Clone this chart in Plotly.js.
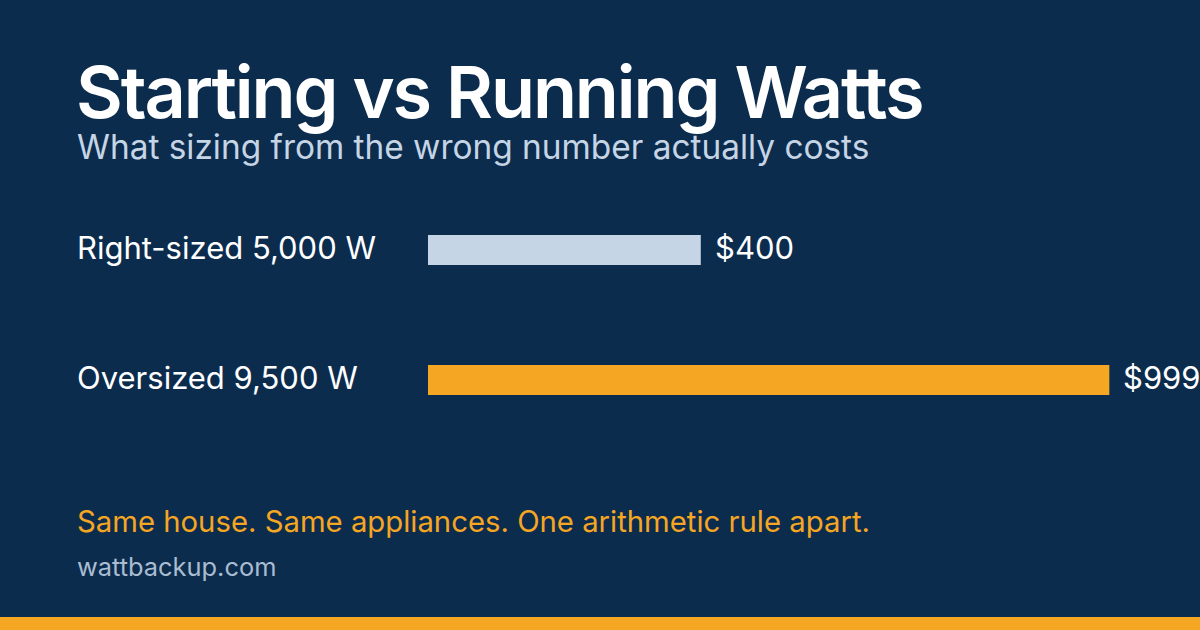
<!DOCTYPE html>
<html>
<head>
<meta charset="utf-8">
<script src="https://cdn.plot.ly/plotly-3.0.1.min.js"></script>
<style>
  html, body { margin: 0; padding: 0; background: #0c2c4e; }
  #chart { width: 1200px; height: 630px; }
</style>
</head>
<body>
<div id="chart"></div>
<script>
// ---- data --------------------------------------------------------------------
const categories = ['Right-sized 5,000 W', 'Oversized 9,500 W'];
const costs      = [400, 999];
const costLabels = ['$400', '$999'];
const barColors  = ['#c5d5e5', '#f5a623'];

const TITLE    = 'Starting vs Running Watts';
const SUBTITLE = 'What sizing from the wrong number actually costs';
const FOOTNOTE = 'Same house. Same appliances. One arithmetic rule apart.';
const SOURCE   = 'wattbackup.com';

// ---- page geometry (px) ------------------------------------------------------
const W = 1200, H = 630;
const M = { l: 428, r: 0, t: 185, b: 185 };
const plotW = W - M.l - M.r;
const plotH = H - M.t - M.b;
const xp = px => (px - M.l) / plotW;         // page px -> paper x
const yp = py => (H - M.b - py) / plotH;     // page px -> paper y

const BG     = '#0c2c4e';
const ORANGE = '#f5a623';
const FONT   = 'Inter, "Noto Sans", sans-serif';

const traces = [{
  type: 'bar', orientation: 'h',
  x: costs, y: categories,
  marker: { color: barColors, line: { width: 0 } },
  width: 0.23,
  hoverinfo: 'skip',
}];

const annotations = [];

// category labels, left aligned at the text column
categories.forEach(c => {
  annotations.push({
    xref: 'paper', yref: 'y', x: xp(75), y: c,
    xanchor: 'left', yanchor: 'middle', yshift: 3, showarrow: false,
    text: c, font: { family: FONT, size: 31, color: '#ffffff' },
  });
});

// value labels just past bar end
costs.forEach((v, i) => {
  annotations.push({
    xref: 'x', yref: 'y', x: v, y: categories[i],
    xanchor: 'left', yanchor: 'middle', xshift: 12, yshift: 3, showarrow: false,
    text: costLabels[i], font: { family: FONT, size: 31, color: '#ffffff' },
  });
});

annotations.push(
  { xref: 'paper', yref: 'paper', x: xp(74), y: yp(92),
    xanchor: 'left', yanchor: 'middle', showarrow: false,
    text: TITLE, font: { family: FONT, size: 72, color: '#ffffff', weight: 600 } },
  { xref: 'paper', yref: 'paper', x: xp(75), y: yp(147),
    xanchor: 'left', yanchor: 'middle', showarrow: false,
    text: SUBTITLE, font: { family: FONT, size: 33.4, color: '#c5d5e5' } },
  { xref: 'paper', yref: 'paper', x: xp(75), y: yp(521),
    xanchor: 'left', yanchor: 'middle', showarrow: false,
    text: FOOTNOTE, font: { family: FONT, size: 29.3, color: ORANGE } },
  { xref: 'paper', yref: 'paper', x: xp(75), y: yp(566),
    xanchor: 'left', yanchor: 'middle', showarrow: false,
    text: SOURCE, font: { family: FONT, size: 25.4, color: '#a9bcd1' } },
);

const layout = {
  width: W, height: H,
  paper_bgcolor: BG, plot_bgcolor: BG,
  margin: M,
  showlegend: false,
  xaxis: { range: [0, plotW / 0.682], visible: false, fixedrange: true },
  yaxis: { range: [1.5, -0.5], visible: false, fixedrange: true },
  annotations,
  shapes: [{
    type: 'rect', xref: 'paper', yref: 'paper',
    x0: xp(0), x1: xp(W), y0: yp(617), y1: yp(H + 2),
    fillcolor: ORANGE, line: { width: 0 }, layer: 'above',
  }],
};

Plotly.newPlot('chart', traces, layout, { displayModeBar: false, staticPlot: true })
  .then(() => {
    // headline is set a little tight, as in the original card;
    // keep its left edge where plotly put it
    document.querySelectorAll('#chart text.annotation-text').forEach(t => {
      if (t.textContent !== TITLE) return;
      const left = t.getBBox().x;
      t.style.letterSpacing = '-2.1px';
      t.setAttribute('text-anchor', 'start');
      t.setAttribute('x', left);
    });
  });
</script>
</body>
</html>
